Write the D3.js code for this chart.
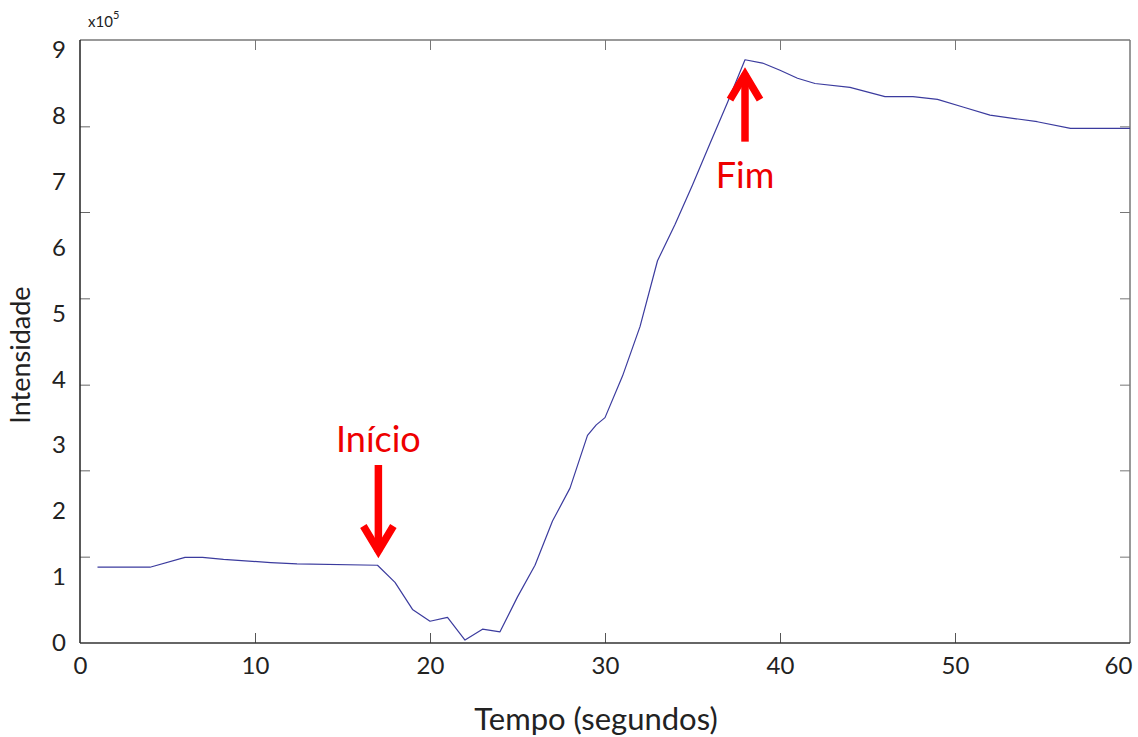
<!DOCTYPE html>
<html>
<head>
<meta charset="utf-8">
<script src="https://cdn.jsdelivr.net/npm/d3@7"></script>
<style>
  body { margin: 0; background: #fff; }
  text { font-family: Lato, "Open Sans", sans-serif; }
</style>
</head>
<body>
<svg id="chart" width="1138" height="737"></svg>
<script>
// tempo (s) e intensidade (x10^5)
const tempo = [1, 4, 6, 7, 8.2, 10.9, 12.4, 17, 18, 19, 20, 21, 22, 23, 24, 25, 26, 27, 28, 29,
	       29.5, 30, 31, 32, 33, 34, 35, 36, 37, 38, 39, 40, 41, 42, 44, 46, 47.6, 49, 50.5,
	       52, 54.7, 56.6, 60];
const intensidade = [1.15, 1.15, 1.30, 1.30, 1.27, 1.22, 1.20, 1.18, 0.92, 0.51, 0.33, 0.39, 0.045,
		     0.21, 0.17, 0.70, 1.18, 1.85, 2.35, 3.15, 3.31, 3.42, 4.05, 4.80, 5.80, 6.35,
		     6.95, 7.58, 8.20, 8.85, 8.80, 8.69, 8.57, 8.49, 8.43, 8.29, 8.29, 8.25, 8.13,
		     8.01, 7.91, 7.81, 7.81];
const xTicks = [0, 10, 20, 30, 40, 50, 60];
const yLabels = [0, 1, 2, 3, 4, 5, 6, 7, 8, 9];
// tick marks of the original axis (not aligned with the labels)
const yTickMarks = [1.31, 2.62, 3.92, 5.23, 6.54, 7.84];
const anotacoes = [
    {text: "Início", t: 17.05, v: 1.32, dir: "down"},
    {text: "Fim", t: 38.0, v: 8.70, dir: "up"}
];

let dimensions = (svg, m) =>
    ({width: +svg.attr("width"), height: +svg.attr("height"), margin: m,
      innerWidth: +svg.attr("width") - m.left - m.right,
      innerHeight: +svg.attr("height") - m.top - m.bottom});

function grafico(id) {
    const svg = d3.select(`#${id}`);
    const dim = dimensions(svg, {top: 40, left: 80, right: 8, bottom: 94});
    const data = tempo.map((t, i) => ({t: t, v: intensidade[i]}));

    const x = d3.scaleLinear().domain([0, 60]).range([0, dim.innerWidth]);
    const y = d3.scaleLinear().domain([0, 9.15]).range([dim.innerHeight, 0]);

    const g = svg.append("g")
	  .attr("transform", `translate(${dim.margin.left}, ${dim.margin.top})`);

    // inner tick marks on all four sides
    const inner = xTicks.slice(1, -1);
    g.append("g").call(d3.axisBottom(x).tickValues(inner).tickSize(-10).tickFormat(""))
	.attr("transform", `translate(0, ${dim.innerHeight})`)
	.call(a => a.select(".domain").remove())
	.selectAll("line").attr("stroke", "#555");
    g.append("g").call(d3.axisTop(x).tickValues(inner).tickSize(-10).tickFormat(""))
	.call(a => a.select(".domain").remove())
	.selectAll("line").attr("stroke", "#777");
    g.append("g").call(d3.axisLeft(y).tickValues(yTickMarks).tickSize(-10).tickFormat(""))
	.call(a => a.select(".domain").remove())
	.selectAll("line").attr("stroke", "#666");
    g.append("g").call(d3.axisRight(y).tickValues(yTickMarks).tickSize(-10).tickFormat(""))
	.attr("transform", `translate(${dim.innerWidth}, 0)`)
	.call(a => a.select(".domain").remove())
	.selectAll("line").attr("stroke", "#777");

    // labels
    g.append("g").call(d3.axisBottom(x).tickValues(xTicks).tickSize(0).tickPadding(14))
	.attr("transform", `translate(0, ${dim.innerHeight})`)
	.call(a => a.select(".domain").remove())
	.selectAll("text").attr("font-size", 24).attr("fill", "#222")
	.attr("font-family", "Lato, sans-serif")
	.attr("dx", d => d === 60 ? -12 : 0);
    g.append("g").call(d3.axisLeft(y).tickValues(yLabels).tickSize(0).tickPadding(14))
	.call(a => a.select(".domain").remove())
	.selectAll("text").attr("font-size", 24).attr("fill", "#222")
	.attr("font-family", "Lato, sans-serif");

    // frame
    g.append("line").attr("x1", 0).attr("x2", dim.innerWidth).attr("y1", 0).attr("y2", 0)
	.attr("stroke", "#777").attr("stroke-width", 1.5);
    g.append("line").attr("x1", dim.innerWidth).attr("x2", dim.innerWidth)
	.attr("y1", 0).attr("y2", dim.innerHeight)
	.attr("stroke", "#777").attr("stroke-width", 1.5);
    g.append("line").attr("x1", 0).attr("x2", 0).attr("y1", 0).attr("y2", dim.innerHeight)
	.attr("stroke", "#222").attr("stroke-width", 1.5);
    g.append("line").attr("x1", 0).attr("x2", dim.innerWidth)
	.attr("y1", dim.innerHeight).attr("y2", dim.innerHeight)
	.attr("stroke", "#333").attr("stroke-width", 1.5);

    g.append("path")
	.attr("d", d3.line().x(d => x(d.t)).y(d => y(d.v))(data))
	.attr("fill", "none")
	.attr("stroke", "#3b3b9e")
	.attr("stroke-width", 1.2)
	.attr("stroke-linejoin", "round");

    // annotations
    anotacoes.forEach(a => {
	const tx = x(a.t), ty = y(a.v);
	const s = a.dir === "down" ? -1 : 1;
	const arrow = g.append("g").attr("stroke", "#f00").attr("stroke-width", 7.5).attr("fill", "none");
	arrow.append("line").attr("x1", tx).attr("x2", tx)
	    .attr("y1", ty + s * 4).attr("y2", ty + s * (a.dir === "down" ? 91 : 72));
	arrow.append("polyline")
	    .attr("points", [[tx - 15, ty + s * 30], [tx, ty + s * 5], [tx + 15, ty + s * 30]].join(" "))
	    .attr("stroke-linejoin", "miter");
	g.append("text")
	    .attr("x", tx)
	    .attr("y", a.dir === "down" ? ty - 104 : ty + 118)
	    .attr("text-anchor", "middle")
	    .attr("font-size", 36)
	    .attr("fill", "#e00")
	    .text(a.text);
    });

    // axis titles
    svg.append("text")
	.attr("transform", `translate(30, 355) rotate(-90)`)
	.attr("text-anchor", "middle")
	.attr("font-size", 27)
	.attr("fill", "#222")
	.text("Intensidade");
    svg.append("text")
	.attr("x", 596).attr("y", 730)
	.attr("text-anchor", "middle")
	.attr("font-size", 31)
	.attr("fill", "#222")
	.text("Tempo (segundos)");

    const exp = svg.append("text").attr("x", 88).attr("y", 27)
	  .attr("font-size", 15).attr("fill", "#222");
    exp.append("tspan").text("x10");
    exp.append("tspan").attr("dy", -8).attr("font-size", 11).text("5");
}

grafico("chart");
</script>
</body>
</html>
